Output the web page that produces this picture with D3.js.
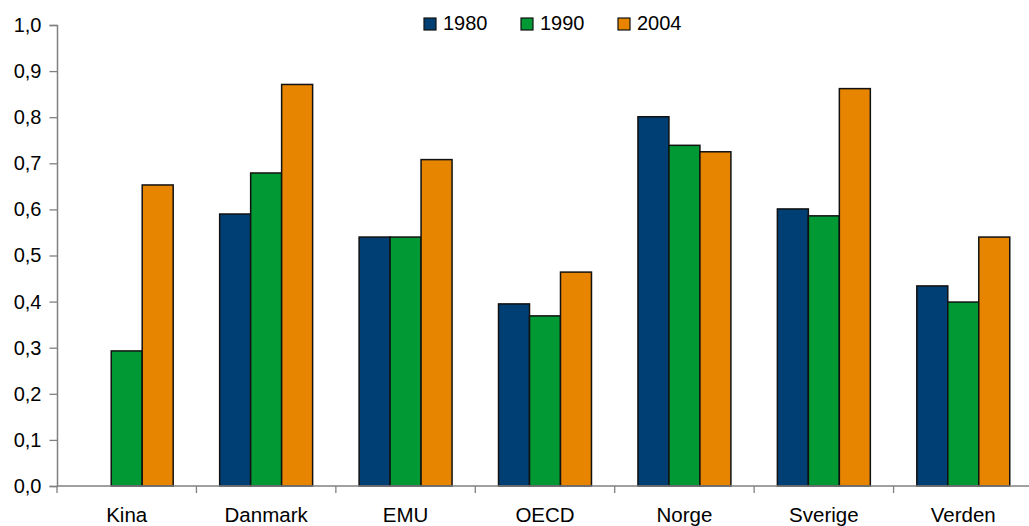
<!DOCTYPE html>
<html>
<head>
<meta charset="utf-8">
<script src="https://cdn.jsdelivr.net/npm/d3@7"></script>
<style>
  html, body { margin: 0; padding: 0; background: #fff; overflow: hidden; }
  svg { display: block; font-family: "Liberation Sans", Arial, sans-serif; }
</style>
</head>
<body>
<svg id="chart" width="1029" height="526"></svg>
<script>
// Categories and series
const categories = ["Kina", "Danmark", "EMU", "OECD", "Norge", "Sverige", "Verden"];
const seriesNames = ["1980", "1990", "2004"];
const values1980 = [0, 0.590, 0.540, 0.395, 0.801, 0.601, 0.434];
const values1990 = [0.293, 0.679, 0.540, 0.369, 0.739, 0.586, 0.399];
const values2004 = [0.653, 0.871, 0.708, 0.464, 0.725, 0.862, 0.540];
const yTicks = [0, 0.1, 0.2, 0.3, 0.4, 0.5, 0.6, 0.7, 0.8, 0.9, 1.0];
const colors = ["#003f73", "#009933", "#e88500"];

const seriesValues = [values1980, values1990, values2004];

const svg = d3.select("#chart");
const plotLeft = 57, plotRight = 1033, plotTop = 25, plotBottom = 486;

const x = d3.scaleBand().domain(categories).range([plotLeft, plotRight])
  .paddingInner(1.5 / 4.5).paddingOuter(0.75 / 4.5);
const xInner = d3.scaleBand().domain(seriesNames).range([0, x.bandwidth()]);
const y = d3.scaleLinear().domain([0, 1]).range([plotBottom, plotTop]);

// Bars
const rows = categories.map((c, i) => ({ cat: c, vals: seriesValues.map((s, j) => ({ name: seriesNames[j], v: s[i], j })) }));
const groups = svg.append("g").selectAll("g").data(rows).join("g")
  .attr("transform", d => `translate(${x(d.cat)},0)`);
groups.selectAll("rect").data(d => d.vals.filter(e => e.v > 0)).join("rect")
  .attr("x", d => xInner(d.name))
  .attr("y", d => y(d.v))
  .attr("width", xInner.bandwidth())
  .attr("height", d => y(0) - y(d.v))
  .attr("fill", d => colors[d.j])
  .attr("stroke", "#111")
  .attr("stroke-width", 1.5);

// Y axis
const yAxis = d3.axisLeft(y).tickValues(yTicks).tickSize(7.5).tickPadding(8)
  .tickFormat(d => d3.format(".1f")(d).replace(".", ","));
const gy = svg.append("g").attr("transform", `translate(${plotLeft},0)`).call(yAxis);
gy.select(".domain").attr("stroke", "#808080").attr("stroke-width", 1.5);
gy.selectAll(".tick line").attr("stroke", "#808080").attr("stroke-width", 1.3);
gy.selectAll(".tick text").attr("fill", "#000").attr("font-size", 20)
  .attr("font-family", "'Liberation Sans', Arial, sans-serif");

// X axis: baseline with ticks at category boundaries
const gx = svg.append("g");
gx.append("line").attr("x1", plotLeft).attr("x2", plotRight).attr("y1", plotBottom).attr("y2", plotBottom)
  .attr("stroke", "#808080").attr("stroke-width", 1.5);
const boundaries = categories.map(c => x(c) - x.step() * x.paddingInner() / 2);
gx.selectAll("line.tk").data(boundaries).join("line").attr("class", "tk")
  .attr("x1", d => d).attr("x2", d => d).attr("y1", plotBottom).attr("y2", plotBottom + 7)
  .attr("stroke", "#808080").attr("stroke-width", 1.3);
gx.selectAll("text").data(categories).join("text")
  .attr("x", d => x(d) + x.bandwidth() / 2)
  .attr("y", 522)
  .attr("text-anchor", "middle")
  .attr("font-size", 20.5)
  .text(d => d);

// Legend
const legendX = [424, 521, 618];
const lg = svg.append("g").selectAll("g").data(seriesNames).join("g")
  .attr("transform", (d, i) => `translate(${legendX[i]},18)`);
lg.append("rect").attr("width", 12).attr("height", 12)
  .attr("fill", (d, i) => colors[i]).attr("stroke", "#111").attr("stroke-width", 1.2);
lg.append("text").attr("x", 19).attr("y", 12).attr("font-size", 20).text(d => d);
</script>
</body>
</html>
